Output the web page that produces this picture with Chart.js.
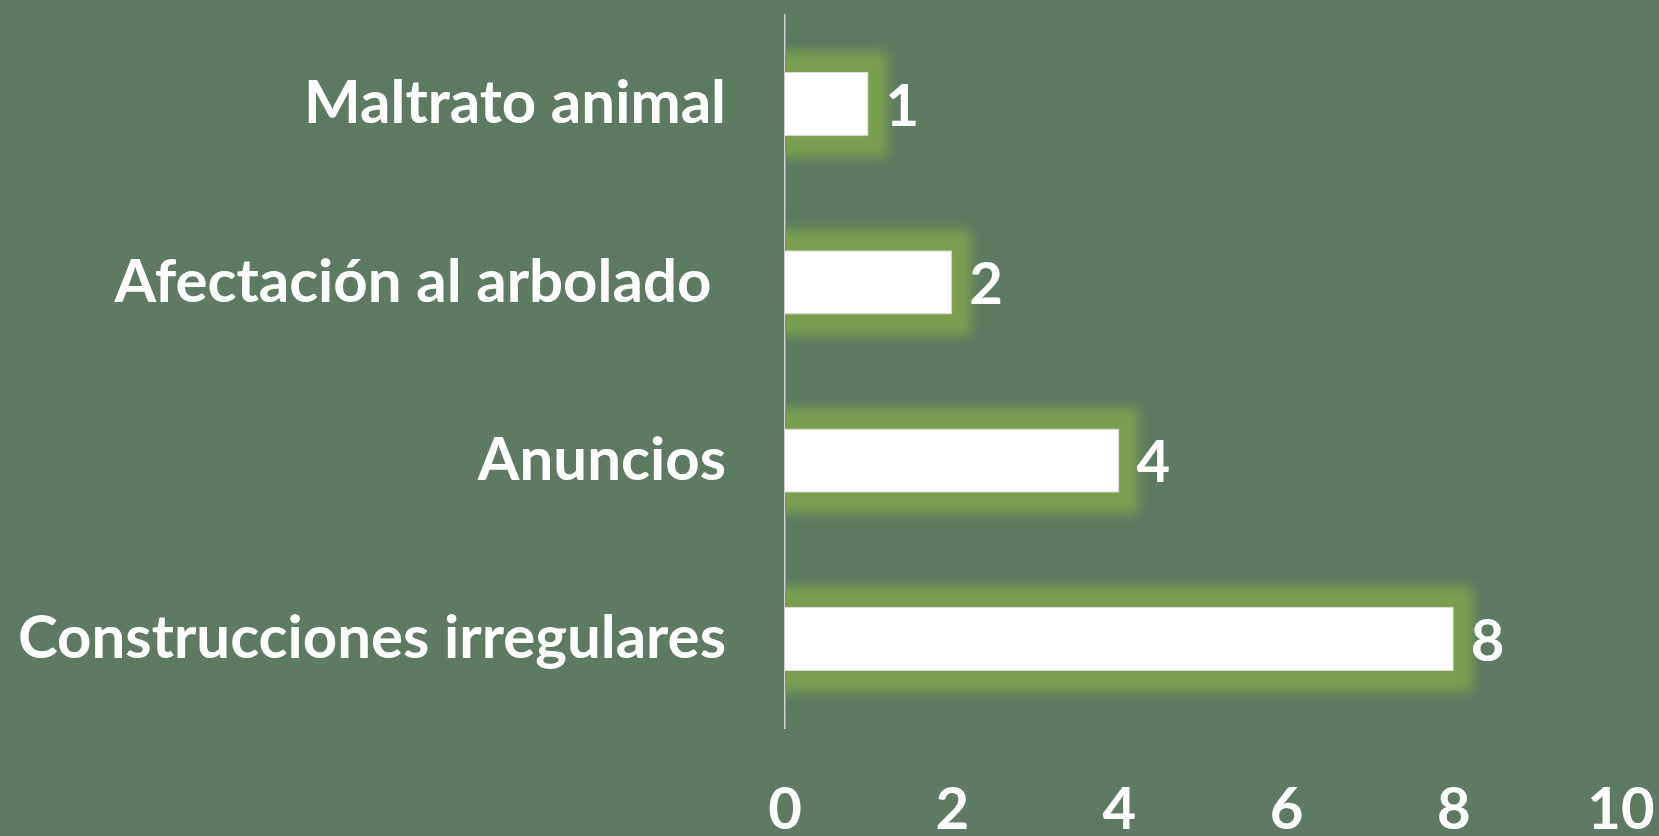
<!DOCTYPE html>
<html>
<head>
<meta charset="utf-8">
<script src="https://cdn.jsdelivr.net/npm/chart.js@4/dist/chart.umd.min.js"></script>
<style>
  html, body { margin: 0; padding: 0; background: #5e7a63; }
  #wrap { width: 1659px; height: 836px; position: relative; }
</style>
</head>
<body>
<div id="wrap"><canvas id="c" width="1659" height="836"></canvas></div>
<script>
const categories = ["Maltrato animal", "Afectación al arbolado ", "Anuncios", "Construcciones irregulares"];
const values = [1, 2, 4, 8];
const xTicks = [0, 2, 4, 6, 8, 10];

const glowPlugin = {
  id: 'glow',
  beforeDatasetsDraw(chart) {
    const ctx = chart.ctx;
    const area = chart.chartArea;
    const meta = chart.getDatasetMeta(0);
    ctx.save();
    ctx.beginPath();
    ctx.rect(area.left, 0, chart.width - area.left, chart.height);
    ctx.clip();
    ctx.filter = 'blur(6px)';
    ctx.fillStyle = '#7a9e4e';
    meta.data.forEach(bar => {
      const p = bar.getProps(['x', 'y', 'base', 'height'], true);
      const g = 21;
      ctx.fillRect(p.base - 10, p.y - p.height / 2 - g, (p.x - p.base) + 10 + g - 2, p.height + 2 * g);
    });
    ctx.restore();
  }
};

const labelPlugin = {
  id: 'vals',
  afterDatasetsDraw(chart) {
    const ctx = chart.ctx;
    const meta = chart.getDatasetMeta(0);
    ctx.save();
    ctx.fillStyle = '#ffffff';
    ctx.font = 'bold 58px Lato';
    ctx.textAlign = 'left';
    ctx.textBaseline = 'middle';
    meta.data.forEach((bar, i) => {
      const p = bar.getProps(['x', 'y'], true);
      ctx.fillText(String(values[i]), p.x + 17, p.y + 3);
    });
    ctx.restore();
  }
};

new Chart(document.getElementById('c'), {
  type: 'bar',
  data: {
    labels: categories,
    datasets: [{
      data: values,
      backgroundColor: '#ffffff',
      borderColor: '#d9d9d9',
      borderWidth: 1,
      borderSkipped: 'start',
      categoryPercentage: 1,
      barPercentage: 0.36
    }]
  },
  options: {
    indexAxis: 'y',
    responsive: false,
    animation: false,
    devicePixelRatio: 1,
    layout: { padding: { top: 15, right: 38, bottom: 0, left: 0 } },
    plugins: { legend: { display: false }, tooltip: { enabled: false } },
    scales: {
      x: {
        min: 0, max: 10,
        afterBuildTicks(scale) { scale.ticks = xTicks.map(v => ({ value: v })); },
        afterFit(scale) {
          scale.height = 108;
          scale.paddingLeft = 0; scale.paddingRight = 0;
          scale.paddingTop = 0; scale.paddingBottom = 0;
        },
        grid: { display: false, drawTicks: false },
        border: { display: false },
        ticks: {
          color: '#ffffff',
          font: { family: 'Lato', weight: 'bold', size: 58, lineHeight: 1 },
          padding: 53,
          maxRotation: 0,
          autoSkip: false
        }
      },
      y: {
        afterFit(scale) {
          scale.width = 785;
          scale.paddingLeft = 0; scale.paddingRight = 0;
          scale.paddingTop = 0; scale.paddingBottom = 0;
        },
        grid: { display: false, drawTicks: false },
        border: { display: true, color: '#d0d0d0', width: 1.5 },
        ticks: {
          color: '#ffffff',
          font: { family: 'Lato', weight: 'bold', size: 60 },
          padding: 59,
          autoSkip: false
        }
      }
    }
  },
  plugins: [glowPlugin, labelPlugin]
});
</script>
</body>
</html>
